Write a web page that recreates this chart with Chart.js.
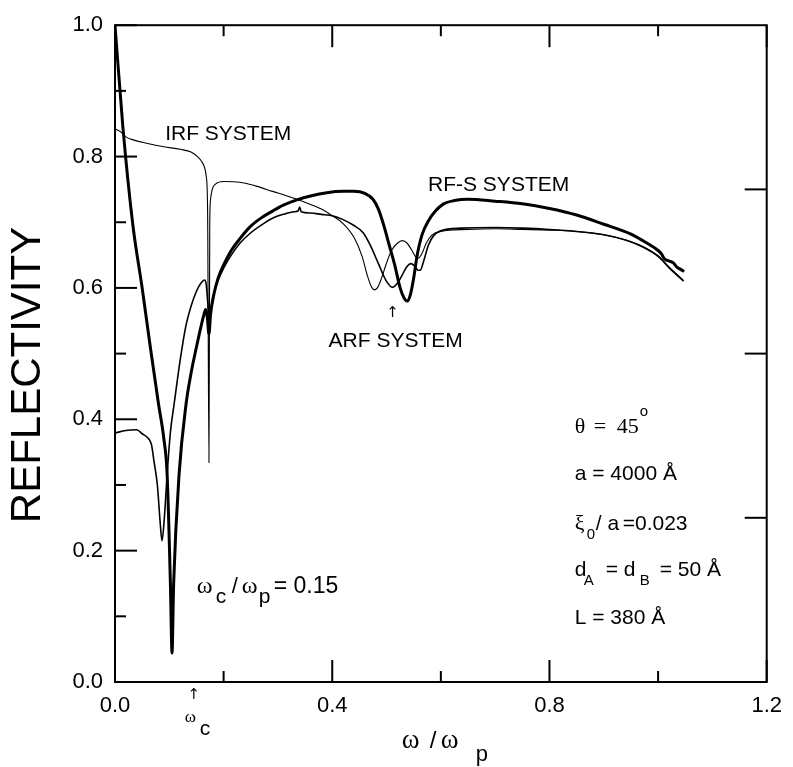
<!DOCTYPE html>
<html>
<head>
<meta charset="utf-8">
<script src="https://cdn.jsdelivr.net/npm/chart.js@4.4.1/dist/chart.umd.min.js"></script>
<style>
  html, body { margin: 0; padding: 0; background: #fff; }
  #wrap { width: 793px; height: 767px; }
</style>
</head>
<body>
<div id="wrap"><canvas id="chart" width="793" height="767"></canvas></div>
<script>
// values
const irfX = [0, 0.01, 0.02, 0.035, 0.06, 0.09, 0.12, 0.14, 0.152, 0.16, 0.165, 0.168, 0.1705, 0.173, 0.1745, 0.176, 0.179, 0.185, 0.2, 0.23, 0.26, 0.29, 0.317, 0.335, 0.36, 0.38, 0.4, 0.42, 0.44, 0.455, 0.465, 0.472, 0.477, 0.483, 0.49, 0.5, 0.51, 0.52, 0.529, 0.538, 0.546, 0.553, 0.558, 0.565, 0.573, 0.583, 0.6, 0.65, 0.7, 0.75, 0.8, 0.85, 0.9, 0.94, 0.97, 1.0, 1.02, 1.046];
const irfY = [0.842, 0.838, 0.83, 0.825, 0.82, 0.815, 0.811, 0.807, 0.8, 0.792, 0.783, 0.77, 0.72, 0.334, 0.7, 0.735, 0.75, 0.758, 0.762, 0.761, 0.755, 0.747, 0.74, 0.735, 0.727, 0.72, 0.71, 0.698, 0.677, 0.648, 0.618, 0.602, 0.597, 0.6, 0.613, 0.638, 0.658, 0.668, 0.672, 0.668, 0.658, 0.648, 0.645, 0.652, 0.668, 0.68, 0.686, 0.689, 0.69, 0.689, 0.688, 0.686, 0.681, 0.673, 0.664, 0.649, 0.632, 0.612];

const arfX = [0, 0.02, 0.04, 0.05, 0.06, 0.067, 0.072, 0.078, 0.083, 0.0865, 0.09, 0.096, 0.102, 0.109, 0.12, 0.13, 0.14, 0.15, 0.158, 0.165, 0.168, 0.171, 0.173, 0.176, 0.18, 0.19, 0.2, 0.214, 0.23, 0.25, 0.27, 0.29, 0.31, 0.33, 0.337, 0.34, 0.343, 0.36, 0.38, 0.4, 0.42, 0.44, 0.457, 0.47, 0.486, 0.5, 0.511, 0.52, 0.529, 0.538, 0.545, 0.552, 0.558, 0.562, 0.568, 0.577, 0.587, 0.6, 0.638, 0.7, 0.75, 0.8, 0.85, 0.9, 0.94, 0.97, 1.0, 1.02, 1.046];
const arfY = [0.379, 0.383, 0.384, 0.378, 0.372, 0.362, 0.335, 0.3, 0.245, 0.215, 0.24, 0.316, 0.38, 0.424, 0.49, 0.54, 0.572, 0.595, 0.607, 0.612, 0.605, 0.575, 0.555, 0.565, 0.585, 0.612, 0.63, 0.65, 0.668, 0.684, 0.696, 0.706, 0.712, 0.716, 0.717, 0.723, 0.716, 0.714, 0.712, 0.71, 0.704, 0.695, 0.684, 0.665, 0.635, 0.61, 0.601, 0.607, 0.62, 0.633, 0.637, 0.633, 0.627, 0.627, 0.64, 0.665, 0.68, 0.687, 0.691, 0.692, 0.691, 0.689, 0.686, 0.681, 0.673, 0.663, 0.648, 0.631, 0.611];

const rfsX = [0, 0.0145, 0.033, 0.05, 0.065, 0.08, 0.09, 0.096, 0.102, 0.105, 0.108, 0.118, 0.131, 0.14, 0.15, 0.158, 0.164, 0.167, 0.17, 0.173, 0.176, 0.182, 0.19, 0.2, 0.214, 0.23, 0.25, 0.27, 0.29, 0.31, 0.335, 0.36, 0.39, 0.42, 0.44, 0.46, 0.475, 0.485, 0.495, 0.505, 0.515, 0.525, 0.532, 0.538, 0.544, 0.55, 0.556, 0.565, 0.577, 0.59, 0.605, 0.625, 0.65, 0.7, 0.75, 0.8, 0.85, 0.9, 0.95, 0.98, 1.0, 1.006, 1.012, 1.02, 1.028, 1.034, 1.04, 1.046];
const rfsY = [1.0, 0.845, 0.695, 0.6, 0.51, 0.424, 0.37, 0.316, 0.15, 0.044, 0.15, 0.316, 0.424, 0.47, 0.51, 0.54, 0.56, 0.567, 0.555, 0.53, 0.56, 0.59, 0.615, 0.635, 0.657, 0.675, 0.694, 0.707, 0.717, 0.726, 0.734, 0.74, 0.745, 0.747, 0.747, 0.744, 0.735, 0.72, 0.695, 0.665, 0.635, 0.6, 0.585, 0.58, 0.59, 0.615, 0.648, 0.68, 0.702, 0.717, 0.728, 0.733, 0.735, 0.732, 0.728, 0.721, 0.711, 0.697, 0.682, 0.668, 0.657, 0.652, 0.644, 0.641, 0.638, 0.632, 0.629, 0.626];

const xMajorTicks = [0, 0.4, 0.8, 1.2];
const xMinorTicks = [0.2, 0.6, 1.0];
const yMajorTicks = [0, 0.2, 0.4, 0.6, 0.8, 1.0];
const yMinorTicks = [0.1, 0.3, 0.5, 0.7, 0.9];
const rightTicks = [0.25, 0.5, 0.75];

const SANS = "'Liberation Sans', Arial, sans-serif";
const SERIF = "'Liberation Serif', 'Times New Roman', serif";

function toPoints(xs, ys) {
  return xs.map((x, i) => ({ x: x, y: ys[i] }));
}

function drawRuns(ctx, x0, y0, runs) {
  runs.forEach((r) => {
    ctx.font = r.font;
    ctx.fillText(r.text, x0 + r.dx, y0 + (r.dy || 0));
  });
}

// inward ticks on all four sides and the box
const frameTicks = {
  id: "frameTicks",
  afterDatasetsDraw(chart) {
    const { ctx, chartArea: a, scales } = chart;
    const x = scales.x;
    const y = scales.y;
    ctx.save();
    ctx.strokeStyle = "#000";
    ctx.lineWidth = 2;
    ctx.strokeRect(a.left, a.top, a.right - a.left, a.bottom - a.top);
    function line(x1, y1, x2, y2) {
      ctx.beginPath();
      ctx.moveTo(x1, y1);
      ctx.lineTo(x2, y2);
      ctx.stroke();
    }
    xMajorTicks.forEach((v) => {
      const px = x.getPixelForValue(v);
      line(px, a.bottom, px, a.bottom - 22);
      line(px, a.top, px, a.top + 22);
    });
    xMinorTicks.forEach((v) => {
      const px = x.getPixelForValue(v);
      line(px, a.bottom, px, a.bottom - 11);
      line(px, a.top, px, a.top + 11);
    });
    yMajorTicks.forEach((v) => {
      const py = y.getPixelForValue(v);
      line(a.left, py, a.left + 22, py);
    });
    yMinorTicks.forEach((v) => {
      const py = y.getPixelForValue(v);
      line(a.left, py, a.left + 11, py);
    });
    rightTicks.forEach((v) => {
      const py = y.getPixelForValue(v);
      line(a.right, py, a.right - 22, py);
    });
    ctx.restore();
  }
};

// labels, arrows and the parameter block
const annotations = {
  id: "annotations",
  afterDraw(chart) {
    const { ctx, chartArea: a, scales } = chart;
    const X = (v) => scales.x.getPixelForValue(v);
    const Y = (v) => scales.y.getPixelForValue(v);
    ctx.save();
    ctx.fillStyle = "#000";
    ctx.textAlign = "left";
    ctx.textBaseline = "alphabetic";

    ctx.font = "21px " + SANS;
    ctx.fillText("IRF SYSTEM", X(0.0924), Y(0.8256));
    ctx.fillText("RF-S SYSTEM", X(0.5764), Y(0.7474));
    ctx.fillText("ARF SYSTEM", X(0.3933), Y(0.5098));

    ctx.textAlign = "center";
    ctx.font = "15px 'DejaVu Sans', sans-serif";
    ctx.fillText("\u2191", X(0.511), Y(0.556));
    ctx.fillText("\u2191", X(0.145), a.bottom + 17);
    ctx.textAlign = "left";

    // omega_c under the axis
    drawRuns(ctx, X(0.145) - 9, a.bottom + 40, [
      { text: "\u03c9", font: "17px " + SERIF, dx: 0 },
      { text: "c", font: "21px " + SANS, dx: 15, dy: 13 }
    ]);

    // wc / wp = 0.15
    drawRuns(ctx, X(0.1504), Y(0.1353), [
      { text: "\u03c9", font: "24px " + SERIF, dx: 0 },
      { text: "c", font: "21px " + SANS, dx: 19, dy: 10 },
      { text: "/", font: "22px " + SANS, dx: 35 },
      { text: "\u03c9", font: "24px " + SERIF, dx: 45 },
      { text: "p", font: "21px " + SANS, dx: 62, dy: 10 },
      { text: "= 0.15", font: "23px " + SANS, dx: 77 }
    ]);

    // parameter block
    const bx = X(0.8465);
    drawRuns(ctx, bx, Y(0.379), [
      { text: "\u03b8", font: "22px " + SERIF, dx: 0 },
      { text: "=", font: "22px " + SERIF, dx: 19 },
      { text: "45", font: "22px " + SERIF, dx: 42 },
      { text: "o", font: "15px " + SANS, dx: 65, dy: -17 }
    ]);
    drawRuns(ctx, bx, Y(0.308), [
      { text: "a = 4000 \u00c5", font: "21px " + SANS, dx: 0 }
    ]);
    drawRuns(ctx, bx, Y(0.2316), [
      { text: "\u03be", font: "22px " + SERIF, dx: 0 },
      { text: "0", font: "15px " + SANS, dx: 12, dy: 9 },
      { text: "/ a", font: "21px " + SANS, dx: 21 },
      { text: "=0.023", font: "21px " + SANS, dx: 48 }
    ]);
    drawRuns(ctx, bx, Y(0.161), [
      { text: "d", font: "21px " + SANS, dx: 0 },
      { text: "A", font: "15px " + SANS, dx: 9, dy: 9 },
      { text: "= d", font: "21px " + SANS, dx: 31 },
      { text: "B", font: "15px " + SANS, dx: 65, dy: 9 },
      { text: "= 50 \u00c5", font: "21px " + SANS, dx: 85 }
    ]);
    drawRuns(ctx, bx, Y(0.0887), [
      { text: "L = 380 \u00c5", font: "21px " + SANS, dx: 0 }
    ]);

    // x axis title
    const cx = (a.left + a.right) / 2;
    drawRuns(ctx, cx - 39, a.bottom + 66, [
      { text: "\u03c9", font: "27px " + SERIF, dx: 0 },
      { text: "/", font: "24px " + SANS, dx: 28 },
      { text: "\u03c9", font: "27px " + SERIF, dx: 39 },
      { text: "p", font: "22px " + SANS, dx: 74, dy: 13 }
    ]);

    // y axis title
    ctx.translate(28, 375);
    ctx.rotate(-Math.PI / 2);
    ctx.textAlign = "center";
    ctx.textBaseline = "middle";
    ctx.font = "42px " + SANS;
    ctx.fillText("REFLECTIVITY", 0, 0);
    ctx.restore();
  }
};

const lineStyle = {
  showLine: true,
  pointRadius: 0,
  borderColor: "#000",
  fill: false,
  cubicInterpolationMode: "monotone",
  borderJoinStyle: "round",
  borderCapStyle: "round"
};

new Chart(document.getElementById("chart"), {
  type: "scatter",
  data: {
    datasets: [
      Object.assign({ label: "IRF SYSTEM", data: toPoints(irfX, irfY), borderWidth: 1.1 }, lineStyle),
      Object.assign({ label: "ARF SYSTEM", data: toPoints(arfX, arfY), borderWidth: 1.6 }, lineStyle),
      Object.assign({ label: "RF-S SYSTEM", data: toPoints(rfsX, rfsY), borderWidth: 3 }, lineStyle)
    ]
  },
  options: {
    responsive: false,
    animation: false,
    layout: { padding: { top: 17, right: 16, left: 0, bottom: 0 } },
    plugins: {
      legend: { display: false },
      tooltip: { enabled: false }
    },
    scales: {
      x: {
        type: "linear",
        min: 0,
        max: 1.2,
        afterBuildTicks: (s) => { s.ticks = xMajorTicks.map((v) => ({ value: v })); },
        afterFit: (s) => { s.height = 85; },
        grid: { display: false, drawTicks: false },
        border: { display: false },
        ticks: {
          padding: 11,
          color: "#000",
          maxRotation: 0,
          autoSkip: false,
          font: { family: SANS, size: 22 },
          callback: (v) => Number(v).toFixed(1)
        }
      },
      y: {
        type: "linear",
        min: 0,
        max: 1,
        afterBuildTicks: (s) => { s.ticks = yMajorTicks.map((v) => ({ value: v })); },
        afterFit: (s) => { s.width = 115; },
        grid: { display: false, drawTicks: false },
        border: { display: false },
        ticks: {
          padding: 12,
          color: "#000",
          font: { family: SANS, size: 22 },
          callback: (v) => Number(v).toFixed(1)
        }
      }
    }
  },
  plugins: [frameTicks, annotations]
});
</script>
</body>
</html>
